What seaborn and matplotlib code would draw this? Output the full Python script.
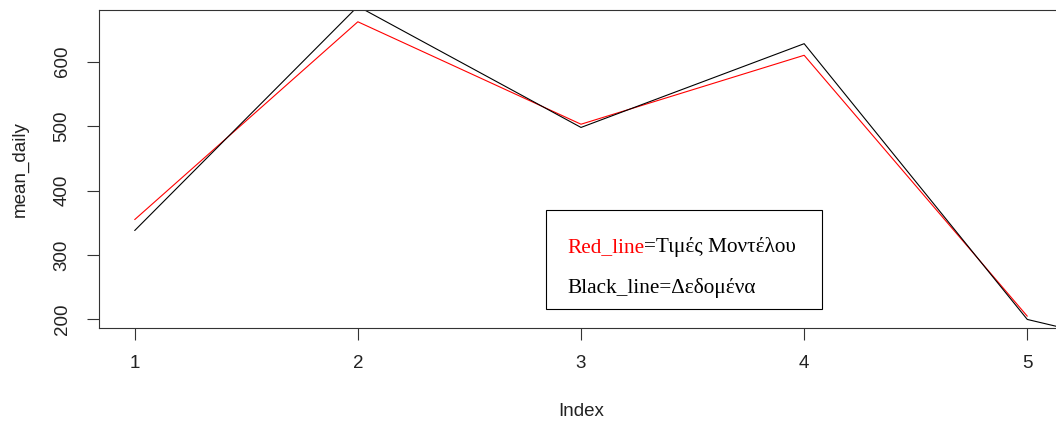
import numpy as np
import pandas as pd
import matplotlib
matplotlib.use("Agg")
import matplotlib.pyplot as plt
import matplotlib.patches as mpatches
import seaborn as sns

# model values (red) and observed data (black)
model_index = [1, 2, 3, 4, 5]
model_values = [355, 662, 503, 610, 205]
data_index = [1, 2, 3, 4, 5, 6]
data_values = [338, 686, 498, 628, 200, 118]

legend_red = "Red_line"
legend_red_rest = "=Τιμές Μοντέλου"
legend_black = "Black_line=Δεδομένα"

sns.set_style("ticks")
plt.rcParams["font.family"] = ["Liberation Sans", "DejaVu Sans"]

fig = plt.figure(figsize=(10.56, 4.22), dpi=100)
ax = fig.add_axes([99 / 1056, 94 / 422, 964 / 1056, 318 / 422])

model_df = pd.DataFrame({"Index": model_index, "mean_daily": model_values})
data_df = pd.DataFrame({"Index": data_index, "mean_daily": data_values})

sns.lineplot(data=model_df, x="Index", y="mean_daily", color="#ff0000",
             linewidth=0.8, ax=ax)
sns.lineplot(data=data_df, x="Index", y="mean_daily", color="black",
             linewidth=0.8, ax=ax)

# R style padding: 4% on each side of the first series' range
xr = max(model_index) - min(model_index)
yr = max(model_values) - min(model_values)
ax.set_xlim(min(model_index) - 0.04 * xr, max(model_index) + 0.04 * xr)
ax.set_ylim(min(model_values) - 0.04 * yr, max(model_values) + 0.04 * yr)

ax.set_xticks(model_index)
ax.set_yticks([200, 300, 400, 500, 600])
for s in ax.spines.values():
    s.set_visible(True)
    s.set_linewidth(0.8)
    s.set_color("#333333")
ax.tick_params(axis="both", length=8.5, width=0.8, color="#333333",
               labelsize=13.5, labelcolor="#222222", direction="out")
ax.tick_params(axis="x", pad=11)
ax.tick_params(axis="y", pad=12)
for lab in ax.get_yticklabels():
    lab.set_rotation(90)
    lab.set_va("center")

ax.set_xlabel("Index", fontsize=13.5, color="#222222", labelpad=22)
ax.set_ylabel("mean_daily", fontsize=13.5, color="#222222", labelpad=18)

# legend box drawn like R's legend()
box = mpatches.Rectangle((0.4637, 0.0597), 0.75 - 0.4637, 0.371 - 0.0597,
                         transform=ax.transAxes, fill=True, facecolor="white",
                         edgecolor="black", linewidth=0.8, zorder=5)
ax.add_patch(box)
serif = ["Liberation Serif", "DejaVu Serif"]
t1 = ax.text(0.4855, 0.253, legend_red, transform=ax.transAxes, color="#ff0000",
             fontsize=15.3, family=serif, va="center", ha="left", zorder=6)
ax.annotate(legend_red_rest, xy=(1, 0), xycoords=t1, va="bottom", ha="left",
            fontsize=15.3, family=serif, color="black", zorder=6)
ax.text(0.4855, 0.127, legend_black, transform=ax.transAxes, color="black",
        fontsize=15.3, family=serif, va="center", ha="left", zorder=6)

fig.savefig("out.png", dpi=100)
